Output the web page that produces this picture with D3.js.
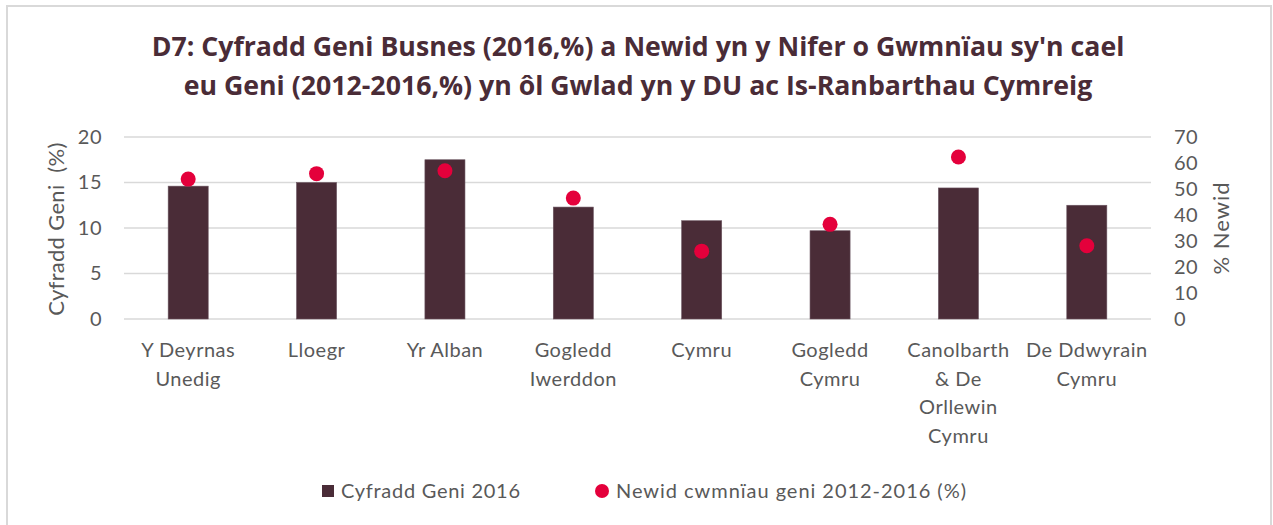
<!DOCTYPE html>
<html>
<head>
<meta charset="utf-8">
<script src="https://cdn.jsdelivr.net/npm/d3@7"></script>
<style>
  body { margin: 0; background: #fff; }
  text { font-family: Lato, "Open Sans", sans-serif; }
</style>
</head>
<body>
<div class="chart"></div>
<script>
// Chart D7 - birth rate bars + change dots on a second axis

var categories = [
  ["Y Deyrnas", "Unedig"],
  ["Lloegr"],
  ["Yr Alban"],
  ["Gogledd", "Iwerddon"],
  ["Cymru"],
  ["Gogledd", "Cymru"],
  ["Canolbarth", "& De", "Orllewin", "Cymru"],
  ["De Ddwyrain", "Cymru"]
];
var birthRate = [14.6, 15.0, 17.5, 12.3, 10.8, 9.7, 14.4, 12.5];
var changePct = [53.8, 55.9, 57.0, 46.5, 26.1, 36.4, 62.3, 28.2];
var leftTicks = [0, 5, 10, 15, 20];
var rightTicks = [0, 10, 20, 30, 40, 50, 60, 70];
var titleLines = [
  "D7: Cyfradd Geni Busnes (2016,%) a Newid yn y Nifer o Gwmnïau sy'n cael",
  "eu Geni (2012-2016,%) yn ôl Gwlad yn y DU ac Is-Ranbarthau Cymreig"
];
var seriesNames = ["Cyfradd Geni 2016", "Newid cwmnïau geni 2012-2016 (%)"];

var svgWidth = 1273;
var svgHeight = 525;
var margin = { top: 137, right: 122, bottom: 206, left: 124 };
var width = svgWidth - margin.left - margin.right;
var height = svgHeight - margin.top - margin.bottom;

var barColor = "#4a2c37";
var dotColor = "#e4003b";
var textColor = "#595959";

var svg = d3.select(".chart")
  .append("svg")
  .attr("width", svgWidth)
  .attr("height", svgHeight);

// outer border
svg.append("rect")
  .attr("x", 7)
  .attr("y", 6)
  .attr("width", 1264)
  .attr("height", 530)
  .attr("fill", "none")
  .attr("stroke", "#d9d9d9")
  .attr("stroke-width", 2);

// title
svg.append("text")
  .attr("x", 638)
  .attr("text-anchor", "middle")
  .attr("fill", barColor)
  .style("font-family", "'Open Sans', sans-serif")
  .style("font-weight", "bold")
  .style("font-size", "26.7px")
  .selectAll("tspan")
  .data(titleLines)
  .enter().append("tspan")
    .attr("x", 638)
    .attr("y", function(d, i) { return 56 + i * 39; })
    .text(function(d) { return d; });

var chart = svg.append("g")
  .attr("transform", "translate(" + margin.left + "," + margin.top + ")");

var xScale = d3.scaleBand()
  .domain(d3.range(categories.length))
  .range([0, width])
  .paddingInner(0.688)
  .paddingOuter(0.344);

var yLeft = d3.scaleLinear().domain([0, 20]).range([height, 0]);
var yRight = d3.scaleLinear().domain([0, 70]).range([height, 0]);

// gridlines
chart.append("g")
  .selectAll("line")
  .data(leftTicks)
  .enter().append("line")
    .attr("x1", 0)
    .attr("x2", width)
    .attr("y1", function(d) { return yLeft(d); })
    .attr("y2", function(d) { return yLeft(d); })
    .attr("stroke", "#d9d9d9")
    .attr("stroke-width", 1.5);

// axes (text only)
var leftAxis = chart.append("g")
  .call(d3.axisLeft(yLeft).tickValues(leftTicks).tickSize(0).tickPadding(22));
var rightAxis = chart.append("g")
  .attr("transform", "translate(" + width + ",0)")
  .call(d3.axisRight(yRight).tickValues(rightTicks).tickSize(0).tickPadding(23));

[leftAxis, rightAxis].forEach(function(ax) {
  ax.select(".domain").remove();
  ax.selectAll("text")
    .attr("fill", textColor)
    .style("font-family", "Lato, sans-serif")
    .style("font-size", "20px")
    .style("letter-spacing", "0.5px");
});

// bars
chart.selectAll("rect.bar")
  .data(birthRate)
  .enter().append("rect")
    .attr("class", "bar")
    .attr("x", function(d, i) { return xScale(i); })
    .attr("y", function(d) { return yLeft(d); })
    .attr("width", xScale.bandwidth())
    .attr("height", function(d) { return height - yLeft(d); })
    .attr("fill", barColor)
    .attr("stroke", "#6b5560")
    .attr("stroke-width", 0.6);

// dots
chart.selectAll("circle.dot")
  .data(changePct)
  .enter().append("circle")
    .attr("class", "dot")
    .attr("cx", function(d, i) { return xScale(i) + xScale.bandwidth() / 2; })
    .attr("cy", function(d) { return yRight(d); })
    .attr("r", 7.5)
    .attr("fill", dotColor);

// category labels
chart.append("g")
  .selectAll("text")
  .data(categories)
  .enter().append("text")
    .attr("text-anchor", "middle")
    .attr("fill", textColor)
    .style("font-size", "20px")
    .style("letter-spacing", "0.5px")
    .each(function(lines, i) {
      var cx = xScale(i) + xScale.bandwidth() / 2;
      d3.select(this).selectAll("tspan")
        .data(lines)
        .enter().append("tspan")
          .attr("x", cx)
          .attr("y", function(d, j) { return height + 38 + j * 28.7; })
          .text(function(d) { return d; });
    });

// axis titles
svg.append("text")
  .attr("transform", "translate(64," + 229 + ") rotate(-90)")
  .attr("text-anchor", "middle")
  .attr("fill", textColor)
  .style("font-size", "22px")
  .style("letter-spacing", "0.3px")
  .style("white-space", "pre")
  .text("Cyfradd Geni  (%)");

svg.append("text")
  .attr("transform", "translate(1229," + 228 + ") rotate(-90)")
  .attr("text-anchor", "middle")
  .attr("fill", textColor)
  .style("font-size", "22px")
  .style("letter-spacing", "1px")
  .text("% Newid");

// legend
var legend = svg.append("g");
legend.append("rect")
  .attr("x", 322)
  .attr("y", 485)
  .attr("width", 12)
  .attr("height", 12)
  .attr("fill", barColor);
legend.append("text")
  .attr("x", 341)
  .attr("y", 498)
  .attr("fill", textColor)
  .style("font-size", "20px")
  .attr("textLength", 179)
  .attr("lengthAdjust", "spacing")
  .text(seriesNames[0]);
legend.append("circle")
  .attr("cx", 602)
  .attr("cy", 491)
  .attr("r", 7)
  .attr("fill", dotColor);
legend.append("text")
  .attr("x", 616)
  .attr("y", 498)
  .attr("fill", textColor)
  .style("font-size", "20px")
  .attr("textLength", 350)
  .attr("lengthAdjust", "spacing")
  .text(seriesNames[1]);
</script>
</body>
</html>
